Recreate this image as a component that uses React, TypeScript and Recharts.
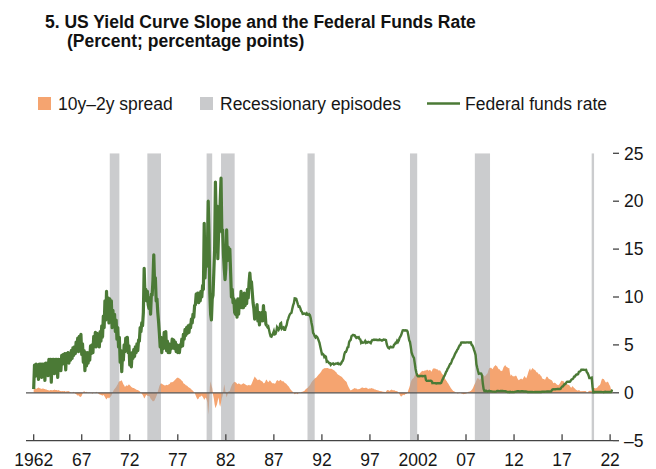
import React from 'react';
import { ComposedChart, Area, Line, XAxis, YAxis, ReferenceArea, ReferenceLine } from 'recharts';

const FONT = "'Liberation Sans', Arial, Helvetica, sans-serif";
const ORANGE = '#f5a470';
const GREEN = '#4b7a36';
const GRAY_LEGEND = '#c9cacc';

const START_YEAR = 1962;

// Federal funds rate, monthly (1962 Jan .. 2022 Apr)
const ffr1962to1967 = [
  0.4, 2.9, 1.7, 3.0, 2.1, 2.9, 1.4, 3.0, 2.2, 3.0, 1.6, 3.0,
  2.0, 3.0, 1.3, 3.1, 2.3, 3.1, 1.8, 3.5, 2.4, 3.5, 1.1, 3.5,
  2.4, 3.5, 2.0, 3.5, 2.6, 3.5, 1.6, 3.5, 2.7, 3.5, 2.3, 3.9,
  3.0, 4.0, 3.1, 4.1, 2.4, 4.1, 3.3, 4.2, 3.1, 4.1, 3.4, 4.4,
  3.6, 4.7, 3.9, 4.8, 4.1, 5.3, 4.4, 5.7, 4.3, 5.9, 4.8, 6.1,
  4.0, 5.1, 3.2, 4.4, 2.3, 4.2, 2.8, 4.2, 3.1, 4.2, 3.4, 4.9,
];
const ffr1968to1973 = [
  4.1, 5.0, 4.2, 5.9, 5.0, 6.3, 4.8, 6.2, 4.9, 6.1, 4.8, 6.4,
  5.4, 7.0, 5.8, 8.0, 6.8, 9.6, 7.6, 10.6, 7.8, 9.9, 7.3, 9.8,
  7.8, 9.6, 6.8, 8.6, 7.0, 8.2, 6.4, 7.6, 5.6, 6.8, 4.8, 5.8,
  3.2, 4.4, 2.2, 4.0, 3.4, 5.0, 4.3, 5.7, 4.8, 5.8, 4.2, 4.9,
  2.9, 3.8, 2.7, 4.2, 3.6, 4.5, 3.8, 4.8, 4.2, 5.1, 4.4, 5.5,
  5.4, 6.8, 6.4, 7.3, 7.0, 8.4, 13.0, 10.2, 10.8, 9.6, 10.6, 9.2,
];
const ffr1974to1979 = [
  8.8, 9.9, 8.2, 10.3, 10.2, 11.8, 14.4, 11.4, 12.0, 9.6, 9.8, 8.4,
  7.4, 6.2, 4.8, 5.8, 4.2, 5.6, 4.6, 6.3, 5.1, 6.4, 4.4, 5.4,
  4.2, 5.1, 4.2, 5.0, 4.6, 5.6, 4.8, 5.5, 4.6, 5.3, 4.3, 5.0,
  4.2, 4.9, 4.2, 5.0, 4.8, 5.6, 4.9, 6.1, 5.6, 6.6, 6.0, 6.8,
  6.2, 7.0, 6.3, 7.1, 6.8, 7.7, 7.3, 8.2, 7.9, 9.1, 9.2, 10.3,
  9.5, 10.4, 9.4, 10.4, 9.6, 10.6, 10.0, 11.2, 10.8, 17.7, 12.0, 14.0,
];
const ffr1980to1985 = [
  13.2, 14.8, 20.0, 16.5, 10.4, 8.2, 7.6, 9.8, 10.2, 12.6, 15.0, 22.0,
  17.5, 19.5, 14.0, 16.8, 17.5, 20.0, 22.4, 16.8, 17.0, 14.5, 13.0, 11.8,
  13.0, 17.0, 13.8, 15.2, 14.0, 15.0, 12.5, 10.0, 10.8, 9.4, 9.8, 8.4,
  8.2, 9.6, 7.9, 9.8, 8.2, 9.8, 8.9, 10.6, 8.9, 10.2, 8.9, 10.4,
  9.1, 10.2, 9.3, 10.8, 9.9, 11.5, 12.5, 11.3, 11.6, 10.5, 9.4, 8.8,
  7.7, 8.8, 7.9, 9.2, 7.5, 8.4, 7.1, 8.3, 7.5, 8.4, 7.5, 9.1,
];
const ffr1986to1991 = [
  7.7, 8.4, 7.2, 6.99, 6.85, 6.92, 6.56, 6.17, 5.89, 5.85, 6.04, 6.2,
  6.43, 6.1, 6.13, 6.37, 6.85, 6.73, 6.58, 6.73, 7.22, 7.29, 6.69, 6.77,
  6.83, 6.58, 6.58, 6.87, 7.09, 7.51, 7.75, 8.01, 8.19, 8.3, 8.35, 8.76,
  9.12, 9.36, 9.85, 9.84, 9.81, 9.53, 9.24, 8.99, 9.02, 8.84, 8.55, 8.45,
  8.23, 8.24, 8.28, 8.26, 8.18, 8.29, 8.15, 8.13, 8.2, 8.11, 7.81, 7.31,
  6.91, 6.25, 6.12, 5.91, 5.78, 5.9, 5.82, 5.66, 5.45, 5.21, 4.81, 4.43,
];
const ffr1992to1997 = [
  4.03, 4.06, 3.98, 3.73, 3.82, 3.76, 3.25, 3.3, 3.22, 3.1, 3.09, 2.92,
  3.02, 3.03, 3.07, 2.96, 3.0, 3.04, 3.06, 3.03, 3.09, 2.99, 3.02, 2.96,
  3.05, 3.25, 3.34, 3.56, 4.01, 4.25, 4.26, 4.47, 4.73, 4.76, 5.29, 5.45,
  5.53, 5.92, 5.98, 6.05, 6.01, 6.0, 5.85, 5.74, 5.8, 5.76, 5.8, 5.6,
  5.56, 5.22, 5.31, 5.22, 5.24, 5.27, 5.4, 5.22, 5.3, 5.24, 5.31, 5.29,
  5.25, 5.19, 5.39, 5.51, 5.5, 5.56, 5.52, 5.54, 5.54, 5.5, 5.52, 5.5,
];
const ffr1998to2003 = [
  5.56, 5.51, 5.49, 5.45, 5.49, 5.56, 5.54, 5.55, 5.51, 5.07, 4.83, 4.68,
  4.63, 4.76, 4.81, 4.74, 4.74, 4.76, 4.99, 5.07, 5.22, 5.2, 5.42, 5.3,
  5.45, 5.73, 5.85, 6.02, 6.27, 6.53, 6.54, 6.5, 6.52, 6.51, 6.51, 6.4,
  5.98, 5.49, 5.31, 4.8, 4.21, 3.97, 3.77, 3.65, 3.07, 2.49, 2.09, 1.82,
  1.73, 1.74, 1.73, 1.75, 1.75, 1.75, 1.73, 1.74, 1.75, 1.75, 1.34, 1.24,
  1.24, 1.26, 1.25, 1.26, 1.26, 1.22, 1.01, 1.03, 1.01, 1.01, 1.0, 0.98,
];
const ffr2004to2009 = [
  1.0, 1.01, 1.0, 1.0, 1.0, 1.03, 1.26, 1.43, 1.61, 1.76, 1.93, 2.16,
  2.28, 2.5, 2.63, 2.79, 3.0, 3.04, 3.26, 3.5, 3.62, 3.78, 4.0, 4.16,
  4.29, 4.49, 4.59, 4.79, 4.94, 4.99, 5.24, 5.25, 5.25, 5.25, 5.25, 5.24,
  5.25, 5.26, 5.26, 5.25, 5.25, 5.25, 5.26, 5.02, 4.94, 4.76, 4.49, 4.24,
  3.94, 2.98, 2.61, 2.28, 1.98, 2.0, 2.01, 2.0, 1.81, 0.97, 0.39, 0.16,
  0.15, 0.22, 0.18, 0.15, 0.18, 0.21, 0.16, 0.16, 0.15, 0.12, 0.12, 0.12,
];
const ffr2010to2015 = [
  0.11, 0.13, 0.16, 0.2, 0.2, 0.18, 0.18, 0.19, 0.19, 0.19, 0.19, 0.18,
  0.17, 0.16, 0.14, 0.1, 0.09, 0.09, 0.07, 0.1, 0.08, 0.07, 0.08, 0.07,
  0.08, 0.1, 0.13, 0.14, 0.16, 0.16, 0.16, 0.13, 0.14, 0.16, 0.16, 0.16,
  0.14, 0.15, 0.14, 0.15, 0.11, 0.09, 0.09, 0.08, 0.08, 0.09, 0.08, 0.09,
  0.07, 0.07, 0.08, 0.09, 0.09, 0.1, 0.09, 0.09, 0.09, 0.09, 0.09, 0.12,
  0.11, 0.11, 0.11, 0.12, 0.12, 0.13, 0.13, 0.14, 0.14, 0.12, 0.12, 0.24,
];
const ffr2016to2022 = [
  0.34, 0.38, 0.36, 0.37, 0.37, 0.38, 0.39, 0.4, 0.4, 0.4, 0.41, 0.54,
  0.65, 0.66, 0.79, 0.9, 0.91, 1.04, 1.15, 1.16, 1.15, 1.15, 1.16, 1.3,
  1.41, 1.42, 1.51, 1.69, 1.7, 1.82, 1.91, 1.91, 1.95, 2.19, 2.2, 2.27,
  2.4, 2.4, 2.41, 2.42, 2.39, 2.38, 2.4, 2.13, 2.04, 1.83, 1.55, 1.55,
  1.55, 1.58, 0.65, 0.05, 0.05, 0.08, 0.09, 0.1, 0.09, 0.09, 0.09, 0.09,
  0.09, 0.08, 0.07, 0.07, 0.06, 0.08, 0.1, 0.09, 0.08, 0.08, 0.08, 0.08,
  0.08, 0.08, 0.2, 0.33,
];

// 10-year minus 2-year spread, monthly (1962 Jan .. 2022 Apr)
const spread1962to1967 = [
  0.5, 0.5, 0.45, 0.4, 0.45, 0.5, 0.55, 0.5, 0.45, 0.45, 0.4, 0.45,
  0.45, 0.4, 0.4, 0.35, 0.35, 0.3, 0.3, 0.25, 0.25, 0.3, 0.3, 0.25,
  0.3, 0.3, 0.35, 0.3, 0.3, 0.3, 0.25, 0.3, 0.25, 0.2, 0.2, 0.15,
  0.2, 0.15, 0.2, 0.2, 0.1, 0.15, 0.15, 0.2, 0.15, 0.1, 0.05, 0,
  -0.05, 0.05, 0.1, 0, -0.1, -0.15, -0.2, -0.3, -0.25, -0.35, -0.45, -0.4,
  -0.3, -0.1, 0.1, 0.15, 0.1, 0.05, 0.1, 0.05, -0.05, 0, 0.05, -0.05,
];
const spread1968to1973 = [
  0, -0.1, -0.05, 0.05, 0, -0.05, 0.1, 0.05, 0, -0.1, -0.15, -0.2,
  -0.2, -0.25, -0.3, -0.2, -0.3, -0.45, -0.6, -0.7, -0.55, -0.5, -0.6, -0.5,
  -0.4, -0.3, -0.1, 0.1, 0.3, 0.4, 0.5, 0.6, 0.75, 0.9, 1.1, 1.2,
  1.2, 1.25, 1.3, 1.1, 0.9, 0.8, 0.6, 0.7, 0.8, 0.7, 0.8, 0.9,
  0.8, 0.7, 0.6, 0.55, 0.5, 0.5, 0.45, 0.4, 0.35, 0.3, 0.3, 0.25,
  0.2, 0.1, 0, -0.1, -0.2, -0.35, -0.6, -0.5, -0.3, -0.2, -0.3, -0.35,
];
const spread1974to1979 = [
  -0.3, -0.4, -0.6, -0.7, -0.8, -0.9, -0.85, -0.8, -0.6, -0.4, -0.2, 0.1,
  0.4, 0.7, 0.9, 1.0, 0.95, 0.9, 0.85, 0.8, 0.75, 0.8, 0.85, 0.8,
  0.85, 0.9, 0.95, 1.1, 1.1, 1.1, 1.15, 1.2, 1.3, 1.4, 1.5, 1.55,
  1.6, 1.55, 1.5, 1.45, 1.35, 1.25, 1.2, 1.0, 0.95, 0.9, 0.8, 0.75,
  0.7, 0.6, 0.55, 0.5, 0.45, 0.35, 0.3, 0.2, 0.1, 0, -0.2, -0.4,
  -0.6, -0.7, -0.6, -0.4, -0.45, -0.3, -0.3, -0.4, -0.55, -0.75, -0.6, -0.5,
];
const spread1980to1985 = [
  -0.7, -1.0, -2.3, -1.2, 0.6, 1.2, 0.8, 0.5, -0.2, -0.6, -1.2, -1.6,
  -1.4, -1.2, -0.8, -0.5, -1.2, -1.45, -1.0, -0.6, -0.3, 0.3, 0.9, 0.4,
  -0.1, -0.5, -0.2, 0.1, 0.2, 0.2, 0.5, 0.7, 0.9, 1.0, 1.1, 1.15,
  1.1, 1.05, 0.95, 0.9, 1.0, 0.95, 0.9, 0.85, 0.9, 0.95, 1.0, 0.95,
  0.9, 0.85, 0.8, 0.75, 0.8, 0.85, 0.75, 0.8, 0.9, 1.1, 1.3, 1.5,
  1.7, 1.6, 1.5, 1.4, 1.3, 1.35, 1.4, 1.3, 1.25, 1.2, 1.15, 1.0,
];
const spread1986to1991 = [
  1.0, 1.1, 1.3, 1.4, 1.2, 1.1, 1.2, 1.3, 1.2, 1.1, 1.0, 1.0,
  1.0, 0.95, 1.0, 1.2, 1.3, 1.3, 1.2, 1.25, 1.35, 1.3, 1.2, 1.2,
  1.2, 1.1, 1.0, 1.0, 0.9, 0.8, 0.7, 0.6, 0.45, 0.35, 0.25, 0.15,
  0.05, -0.05, -0.15, -0.1, -0.05, -0.1, -0.15, 0, 0.05, 0, 0.05, 0.1,
  0.1, 0.15, 0.2, 0.3, 0.4, 0.45, 0.5, 0.6, 0.7, 0.8, 0.95, 1.1,
  1.2, 1.3, 1.4, 1.5, 1.55, 1.6, 1.7, 1.8, 1.9, 2.0, 2.1, 2.2,
];
const spread1992to1997 = [
  2.35, 2.45, 2.5, 2.55, 2.6, 2.55, 2.6, 2.6, 2.55, 2.5, 2.5, 2.5,
  2.5, 2.45, 2.4, 2.35, 2.3, 2.2, 2.15, 2.0, 1.9, 1.85, 1.8, 1.75,
  1.7, 1.65, 1.55, 1.45, 1.35, 1.25, 1.2, 1.1, 0.85, 0.65, 0.5, 0.35,
  0.25, 0.3, 0.35, 0.4, 0.45, 0.5, 0.45, 0.45, 0.4, 0.35, 0.4, 0.4,
  0.45, 0.5, 0.55, 0.55, 0.5, 0.5, 0.5, 0.55, 0.5, 0.45, 0.4, 0.45,
  0.45, 0.45, 0.5, 0.45, 0.45, 0.4, 0.35, 0.35, 0.3, 0.3, 0.25, 0.25,
];
const spread1998to2003 = [
  0.2, 0.2, 0.15, 0.15, 0.1, 0.1, 0.1, 0.05, 0.1, 0.25, 0.3, 0.3,
  0.2, 0.25, 0.3, 0.35, 0.3, 0.25, 0.3, 0.25, 0.2, 0.2, 0.15, 0.1,
  0, -0.15, -0.3, -0.4, -0.3, -0.25, -0.2, -0.25, -0.15, -0.1, -0.1, 0,
  0.3, 0.5, 0.8, 1.1, 1.3, 1.45, 1.5, 1.6, 1.8, 1.9, 2.0, 2.05,
  1.9, 1.95, 2.0, 2.1, 2.2, 2.25, 2.3, 2.25, 2.3, 2.35, 2.3, 2.4,
  2.4, 2.3, 2.35, 2.4, 2.3, 2.2, 2.4, 2.55, 2.5, 2.55, 2.5, 2.45,
];
const spread2004to2009 = [
  2.45, 2.4, 2.3, 2.35, 2.3, 2.15, 2.0, 1.9, 1.75, 1.6, 1.45, 1.3,
  1.2, 1.05, 0.95, 0.8, 0.65, 0.5, 0.4, 0.3, 0.2, 0.15, 0.1, 0.05,
  0, -0.05, -0.1, 0, 0.05, 0, -0.05, -0.1, -0.1, -0.15, -0.12, -0.1,
  -0.1, -0.05, 0.05, 0.1, 0.1, 0.15, 0.2, 0.3, 0.4, 0.55, 0.75, 0.95,
  1.1, 1.3, 1.5, 1.55, 1.45, 1.35, 1.45, 1.55, 1.65, 1.8, 1.85, 1.7,
  1.75, 1.85, 1.95, 2.05, 2.35, 2.6, 2.55, 2.65, 2.55, 2.45, 2.6, 2.75,
];
const spread2010to2015 = [
  2.8, 2.9, 2.8, 2.75, 2.55, 2.45, 2.45, 2.3, 2.3, 2.25, 2.45, 2.7,
  2.8, 2.9, 2.75, 2.7, 2.65, 2.55, 2.6, 2.0, 1.75, 1.9, 1.75, 1.7,
  1.75, 1.7, 1.8, 1.75, 1.55, 1.4, 1.3, 1.4, 1.45, 1.5, 1.4, 1.45,
  1.6, 1.75, 1.65, 1.5, 1.65, 1.9, 2.2, 2.4, 2.55, 2.3, 2.45, 2.6,
  2.5, 2.4, 2.4, 2.3, 2.15, 2.15, 2.05, 1.9, 1.95, 1.8, 1.75, 1.55,
  1.45, 1.45, 1.4, 1.4, 1.6, 1.7, 1.65, 1.5, 1.45, 1.4, 1.35, 1.3,
];
const spread2016to2022 = [
  1.2, 1.0, 1.05, 1.05, 1.0, 0.9, 0.85, 0.8, 0.85, 0.95, 1.1, 1.25,
  1.25, 1.2, 1.2, 1.05, 1.0, 0.9, 0.95, 0.85, 0.85, 0.8, 0.65, 0.55,
  0.55, 0.7, 0.6, 0.5, 0.45, 0.35, 0.3, 0.25, 0.25, 0.3, 0.25, 0.15,
  0.15, 0.2, 0.15, 0.2, 0.2, 0.2, 0.15, 0, 0.05, 0.15, 0.2, 0.25,
  0.2, 0.2, 0.45, 0.5, 0.5, 0.5, 0.45, 0.5, 0.55, 0.65, 0.75, 0.8,
  0.95, 1.25, 1.5, 1.45, 1.45, 1.3, 1.15, 1.05, 1.15, 1.15, 1.05, 0.85,
  0.7, 0.4, 0.15, 0.1,
];

// NBER recessions (start, end) as fractional years
const recessionStarts = [1969.92, 1973.83, 1980.0, 1981.5, 1990.5, 2001.17, 2007.92, 2020.08];
const recessionEnds = [1970.92, 1975.25, 1980.58, 1982.92, 1991.25, 2001.92, 2009.5, 2020.33];

const xTickValues = [1962, 1967, 1972, 1977, 1982, 1987, 1992, 1997, 2002, 2007, 2012, 2017, 2022];
const xTickLabels = ['1962', '67', '72', '77', '82', '87', '92', '97', '2002', '07', '12', '17', '22'];
const yTicks = [-5, 0, 5, 10, 15, 20, 25];

// the volatile (high-frequency) part of the rate series ends in spring 1986
const VOLATILE_END_INDEX = 291;

const ffrAll = [
  ...ffr1962to1967, ...ffr1968to1973, ...ffr1974to1979, ...ffr1980to1985, ...ffr1986to1991,
  ...ffr1992to1997, ...ffr1998to2003, ...ffr2004to2009, ...ffr2010to2015, ...ffr2016to2022,
];
const spreadAll = [
  ...spread1962to1967, ...spread1968to1973, ...spread1974to1979, ...spread1980to1985, ...spread1986to1991,
  ...spread1992to1997, ...spread1998to2003, ...spread2004to2009, ...spread2010to2015, ...spread2016to2022,
];

const data = ffrAll.map((v, i) => ({
  t: START_YEAR + i / 12,
  ffrEarly: i <= VOLATILE_END_INDEX ? v : null,
  ffrLate: i >= VOLATILE_END_INDEX ? v : null,
  spread: spreadAll[i],
}));

const XTick = (props: any) => {
  const { x, y, payload } = props;
  const idx = xTickValues.indexOf(payload.value);
  const label = idx >= 0 ? xTickLabels[idx] : String(payload.value);
  return (
    <g>
      <line x1={x} x2={x} y1={y - 6.5} y2={y} stroke="#444" strokeWidth={1.3} />
      <text x={x} y={y + 24.8} textAnchor="middle" fontFamily={FONT} fontSize={17.5} fill="#161616">
        {label}
      </text>
    </g>
  );
};

const fmtY = (v: number) => (v < 0 ? '\u2013' + Math.abs(v) : String(v));

export default function App() {
  return (
    <div style={{ position: 'absolute', left: 0, top: 0, width: 656, height: 469, background: '#fff' }}>
      <svg width={656} height={469} style={{ position: 'absolute', left: 0, top: 0 }}>
        <text x={45} y={28} fontFamily={FONT} fontWeight="bold" fontSize={17.5} fill="#111">
          5. US Yield Curve Slope and the Federal Funds Rate
        </text>
        <text x={67} y={46.5} fontFamily={FONT} fontWeight="bold" fontSize={17.5} fill="#111">
          (Percent; percentage points)
        </text>
        <rect x={38} y={97} width={13} height={13} fill={ORANGE} />
        <text x={58} y={109.5} fontFamily={FONT} fontSize={17.5} fill="#161616">10y–2y spread</text>
        <rect x={200} y={97} width={13} height={13} fill={GRAY_LEGEND} />
        <text x={220} y={109.5} fontFamily={FONT} fontSize={17.5} fill="#161616">Recessionary episodes</text>
        <line x1={427} x2={460} y1={103.5} y2={103.5} stroke={GREEN} strokeWidth={2.5} />
        <text x={465} y={109.5} fontFamily={FONT} fontSize={17.5} fill="#161616">Federal funds rate</text>
      </svg>
      <div style={{ position: 'absolute', left: 0, top: 0 }}>
        <ComposedChart
          width={656}
          height={469}
          data={data}
          margin={{ top: 153.3, right: 0, bottom: 0, left: 26 }}
        >
          <XAxis
            dataKey="t"
            type="number"
            domain={[1961.2, 2022.3]}
            allowDataOverflow
            ticks={xTickValues}
            interval={0}
            height={28.3}
            tickSize={0}
            tickMargin={0}
            tickLine={false}
            axisLine={{ stroke: '#444', strokeWidth: 1.3 }}
            tick={<XTick />}
          />
          <YAxis
            yAxisId="l"
            orientation="left"
            mirror
            type="number"
            domain={[-5, 25]}
            ticks={yTicks}
            interval={0}
            tick={false}
            tickSize={8}
            axisLine={false}
            tickLine={{ stroke: '#444', strokeWidth: 1.5 }}
          />
          <YAxis
            yAxisId="r"
            orientation="right"
            type="number"
            domain={[-5, 25]}
            ticks={yTicks}
            interval={0}
            width={43}
            tickSize={6}
            tickMargin={5}
            axisLine={false}
            tickLine={{ stroke: '#444', strokeWidth: 1.3 }}
            tickFormatter={fmtY}
            tick={{ fontFamily: FONT, fontSize: 17.5, fill: '#161616' }}
          />
          <Area
            yAxisId="l"
            dataKey="spread"
            type="linear"
            baseValue={0}
            stroke="none"
            fill={ORANGE}
            fillOpacity={1}
            isAnimationActive={false}
            dot={false}
            activeDot={false}
            zIndex={100}
          />
          {recessionStarts.map((s, i) => (
            <ReferenceArea
              key={'rec' + i}
              yAxisId="r"
              x1={s}
              x2={recessionEnds[i]}
              y1={-5}
              y2={25}
              fill="#a5a7ab"
              fillOpacity={0.58}
              stroke="none"
              ifOverflow="hidden"
              zIndex={150}
            />
          ))}
          <ReferenceLine yAxisId="r" y={0} stroke="#555" strokeWidth={1.3} zIndex={200} />
          <Line
            yAxisId="r"
            dataKey="ffrEarly"
            type="linear"
            stroke={GREEN}
            strokeWidth={3.2}
            strokeLinejoin="round"
            dot={false}
            activeDot={false}
            connectNulls={false}
            isAnimationActive={false}
            zIndex={400}
          />
          <Line
            yAxisId="r"
            dataKey="ffrLate"
            type="linear"
            stroke={GREEN}
            strokeWidth={2.4}
            dot={false}
            activeDot={false}
            connectNulls={false}
            isAnimationActive={false}
            zIndex={400}
          />
        </ComposedChart>
      </div>
    </div>
  );
}
